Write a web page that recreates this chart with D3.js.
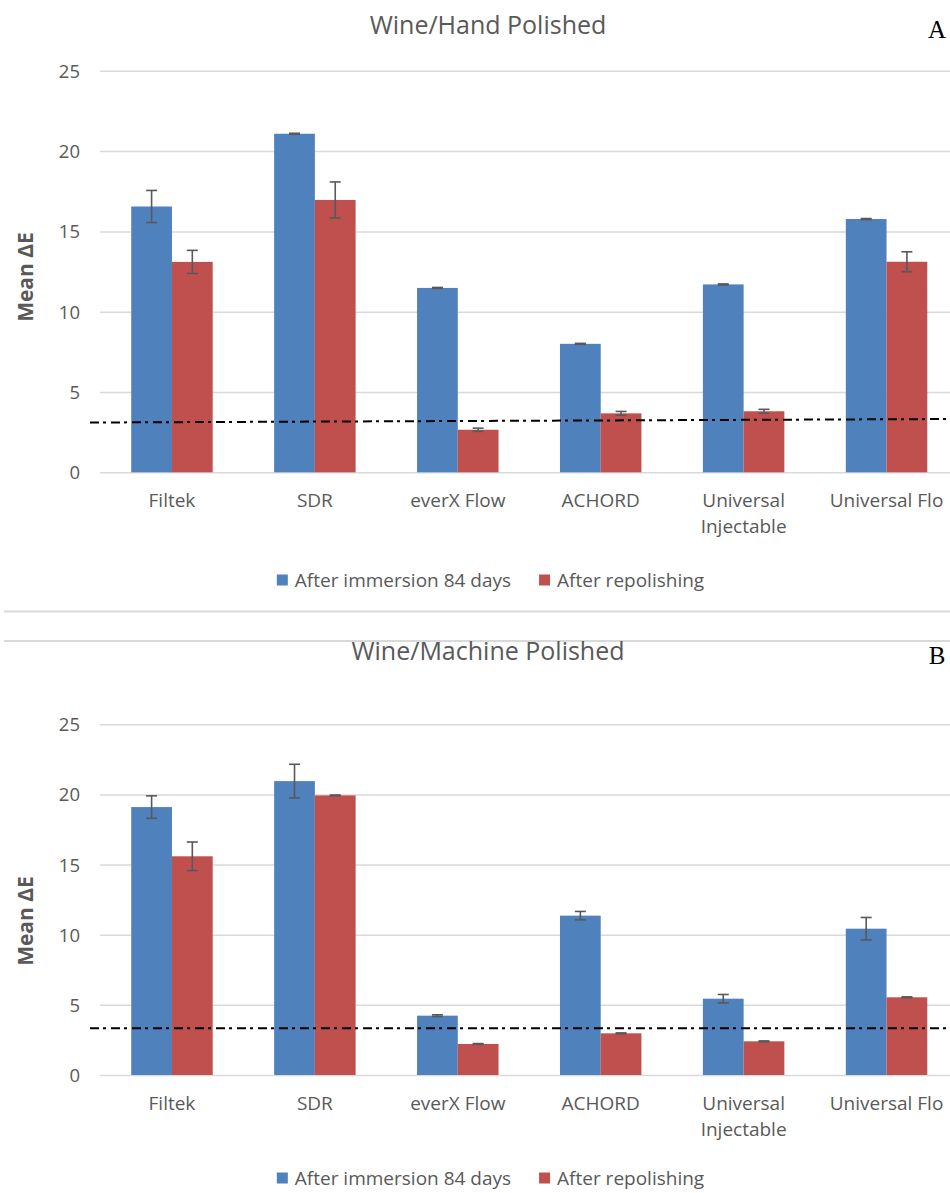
<!DOCTYPE html>
<html>
<head>
<meta charset="utf-8">
<script src="https://cdn.jsdelivr.net/npm/d3@7"></script>
<style>
  body { margin: 0; background: #fff; }
  text { font-family: "Open Sans", sans-serif; }
</style>
</head>
<body>
<script>
// materials on the x axis
var categories = ["Filtek", "SDR", "everX Flow", "ACHORD", "Universal\nInjectable", "Universal Flo"];
var seriesNames = ["After immersion 84 days", "After repolishing"];
var yTicks = [0, 5, 10, 15, 20, 25];

// A - wine / hand polished
var handImmersion    = [16.55, 21.08, 11.48, 8.0, 11.7, 15.77];
var handImmersionErr = [1.0, 0.03, 0.03, 0.03, 0.03, 0.03];
var handRepolish     = [13.1, 16.96, 2.65, 3.67, 3.8, 13.11];
var handRepolishErr  = [0.72, 1.12, 0.1, 0.12, 0.12, 0.62];
var handThreshold    = [3.1, 3.32]; // dash-dot line, left end / right end

// B - wine / machine polished
var machineImmersion    = [19.1, 20.95, 4.23, 11.36, 5.44, 10.43];
var machineImmersionErr = [0.8, 1.2, 0.06, 0.3, 0.3, 0.8];
var machineRepolish     = [15.59, 19.93, 2.21, 2.97, 2.4, 5.54];
var machineRepolishErr  = [1.02, 0.03, 0.03, 0.03, 0.03, 0.03];
var machineThreshold    = [3.33, 3.33];

var colors = ["#4f81bd", "#c0504d"];

var svg = d3.select("body").append("svg")
  .attr("width", 950).attr("height", 1193);

// two excel chart frames, only the separating borders are visible
svg.append("line").attr("x1", 4).attr("x2", 950).attr("y1", 611.5).attr("y2", 611.5)
  .attr("stroke", "#d9d9d9").attr("stroke-width", 2);
svg.append("line").attr("x1", 4).attr("x2", 950).attr("y1", 641).attr("y2", 641)
  .attr("stroke", "#d9d9d9").attr("stroke-width", 2);

drawPanel({
  title: "Wine/Hand Polished", letter: "A",
  titleY: 34, letterY: 38,
  top: 70.8, bottom: 472.3, yLabelY: 277,
  values: [handImmersion, handRepolish],
  errors: [handImmersionErr, handRepolishErr],
  threshold: handThreshold,
  legendY: 587
});

drawPanel({
  title: "Wine/Machine Polished", letter: "B",
  titleY: 660, letterY: 664,
  top: 724.3, bottom: 1075, yLabelY: 921,
  values: [machineImmersion, machineRepolish],
  errors: [machineImmersionErr, machineRepolishErr],
  threshold: machineThreshold,
  legendY: 1185
});

function drawPanel(p) {
  var g = svg.append("g");

  var x = d3.scaleBand().domain(categories).range([100.5, 958])
    .paddingInner(0.43).paddingOuter(0.215);
  var x1 = d3.scaleBand().domain([0, 1]).range([0, x.bandwidth()]);
  var y = d3.scaleLinear().domain([0, 25]).range([p.bottom, p.top]);

  // gridlines + tick labels
  var yAxis = d3.axisLeft(y).tickValues(yTicks).tickSize(-850).tickPadding(20);
  var ya = g.append("g").attr("transform", "translate(100,0)").call(yAxis);
  ya.select(".domain").remove();
  ya.selectAll(".tick line").attr("stroke", "#d9d9d9").attr("stroke-width", 1.5);
  ya.selectAll(".tick text").attr("fill", "#595959").attr("font-size", 18.5)
    .attr("font-family", "Open Sans").attr("dy", "0.35em");

  // bars
  var series = p.values.map(function(vals, s) {
    return vals.map(function(v, i) {
      return { cat: categories[i], s: s, v: v, e: p.errors[s][i] };
    });
  });
  var flat = d3.merge(series);

  g.selectAll("rect.bar").data(flat).enter().append("rect")
    .attr("class", "bar")
    .attr("x", d => x(d.cat) + x1(d.s))
    .attr("y", d => y(d.v))
    .attr("width", x1.bandwidth())
    .attr("height", d => y(0) - y(d.v))
    .attr("fill", d => colors[d.s]);

  // error bars
  var eb = g.selectAll("g.err").data(flat).enter().append("g")
    .attr("class", "err")
    .attr("stroke", "#595959").attr("stroke-width", 1.6);
  var cx = d => x(d.cat) + x1(d.s) + x1.bandwidth() / 2;
  eb.append("line")
    .attr("x1", cx).attr("x2", cx)
    .attr("y1", d => y(d.v + d.e)).attr("y2", d => y(d.v - d.e));
  eb.append("line")
    .attr("x1", d => cx(d) - 5.5).attr("x2", d => cx(d) + 5.5)
    .attr("y1", d => y(d.v + d.e)).attr("y2", d => y(d.v + d.e));
  eb.append("line")
    .attr("x1", d => cx(d) - 5.5).attr("x2", d => cx(d) + 5.5)
    .attr("y1", d => y(d.v - d.e)).attr("y2", d => y(d.v - d.e));

  // threshold line (dash-dot)
  g.append("line")
    .attr("x1", 90).attr("x2", 958)
    .attr("y1", y(p.threshold[0])).attr("y2", y(p.threshold[1]))
    .attr("stroke", "#000").attr("stroke-width", 2)
    .attr("stroke-dasharray", "9,4,3,5");

  // category labels
  var xl = g.selectAll("text.cat").data(categories).enter().append("text")
    .attr("class", "cat")
    .attr("text-anchor", "middle")
    .attr("font-size", 19)
    .attr("fill", "#595959")
    .attr("y", p.bottom + 35);
  xl.each(function(d) {
    var t = d3.select(this);
    d.split("\n").forEach(function(line, i) {
      t.append("tspan").attr("x", x(d) + x.bandwidth() / 2)
        .attr("dy", i ? 26 : 0).text(line);
    });
  });

  // y axis title
  g.append("text")
    .attr("transform", "translate(33," + p.yLabelY + ") rotate(-90)")
    .attr("text-anchor", "middle")
    .attr("font-size", 21).attr("font-weight", "bold")
    .attr("fill", "#595959")
    .text("Mean ΔE");

  // chart title
  g.append("text")
    .attr("x", 488).attr("y", p.titleY)
    .attr("text-anchor", "middle")
    .attr("font-size", 25)
    .attr("fill", "#595959")
    .text(p.title);

  // panel letter
  g.append("text")
    .attr("x", 937).attr("y", p.letterY)
    .attr("text-anchor", "middle")
    .style("font-family", "'Liberation Serif', serif")
    .attr("font-size", 25)
    .attr("fill", "#000")
    .text(p.letter);

  // legend
  var lg = g.append("g");
  var cursor = 0;
  seriesNames.forEach(function(name, i) {
    var item = lg.append("g").attr("transform", "translate(" + cursor + ",0)");
    item.append("rect").attr("x", 0).attr("y", -12.5).attr("width", 11).attr("height", 11)
      .attr("fill", colors[i]);
    var t = item.append("text").attr("x", 18).attr("y", 0)
      .attr("font-size", 19).attr("fill", "#595959").text(name);
    cursor += 18 + t.node().getComputedTextLength() + 28;
  });
  var lw = cursor - 28;
  lg.attr("transform", "translate(" + (490.5 - lw / 2) + "," + p.legendY + ")");
}
</script>
</body>
</html>
